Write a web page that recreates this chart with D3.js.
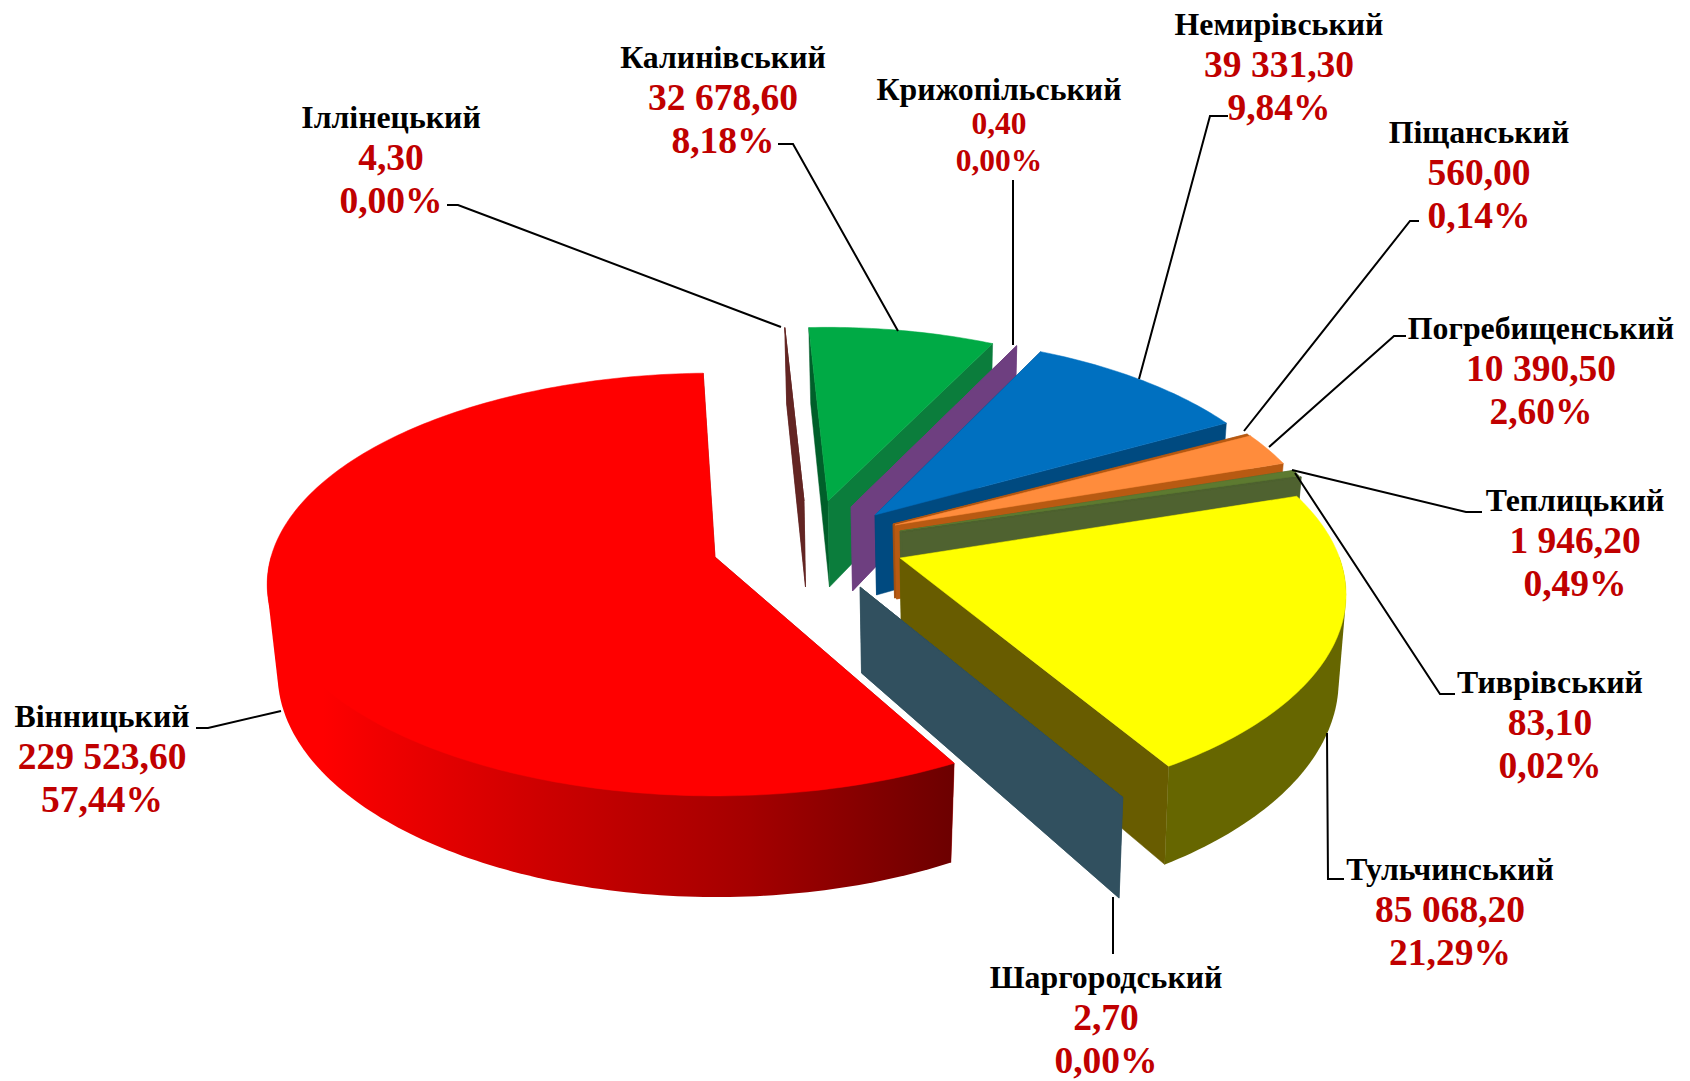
<!DOCTYPE html>
<html><head><meta charset="utf-8">
<style>html,body{margin:0;padding:0;background:#fff}svg{display:block}text{font-family:"Liberation Serif",serif;font-weight:bold;text-anchor:middle}</style>
<script src="https://cdn.jsdelivr.net/npm/d3@7/dist/d3.min.js"></script>
</head><body><svg id="c" width="1690" height="1081"></svg>
<script>
// ---- data ----
const districts = ["Вінницький","Іллінецький","Калинівський","Крижопільський","Немирівський","Піщанський","Погребищенський","Теплицький","Тиврівський","Тульчинський","Шаргородський"];
const values = [229523.6,4.3,32678.6,0.4,39331.3,560,10390.5,1946.2,83.1,85068.2,2.7];

// ---- colours: top face, start wall, end wall, outer wall ----
const topColors  = ["#ff0000","#632523","#00aa45","#6e3f80","#0070c0","#b85a12","#ff8c3c","#5d7a30","#4f6230","#ffff00","#31505f"];
const startWall  = ["#a00000","#632523","#005f2a","#6e3f80","#003f72","#a5500f","#b85a12","#4f6230","#4f6230","#666600","#31505f"];
const endWall    = ["#a00000","#632523","#0b7d3c","#6e3f80","#004a80","#a5500f","#b85a12","#4f6230","#4f6230","#685c00","#31505f"];
const outerWall  = ["url(#redWall)","#632523","#007a33","#6e3f80","#004a80","#a5500f","#b85a12","#4f6230","#4f6230","#666600","#31505f"];

// ---- layout: exploded position of every slice ----
const apexes = [[715,557],[804,501],[828,501],[851,507],[875,515],[893,524],[895,525],[900,531],[902,532],[900,558],[860,587]];
const rots   = [0,-1.3,-1.3,-1.7,-2,-1.3,-1.5,-1,-1,-3,-2.2];
const scales = [1,.93,.93,.95,.96,.96,.96,.97,.97,.99,.99];
const yScale = [.985,1,1,1,1,1,1,1,1,1,1];
const persp  = [.13,.13,.13,.13,.13,.13,.13,.13,.13,.17,.17];
const depths = [88,86,86,84,80,74,74,74,74,84,86];
const drawOrder = [1,2,3,4,5,6,7,8,9,10,0];

const labelX   = [102,391,723,999,1279,1479,1541,1575,1550,1450,1106];
const labelY   = [726,127,67,99,34,142,338,510,692,879,987];
const labelFs  = [37.5,37.5,37.5,31.5,37.5,37.5,37.5,37.5,37.5,37.5,37.5];
const leaders  = [
 [[196,728],[208,728],[281,711]],
 [[447,205],[458,205],[781,327]],
 [[778,144],[793,144],[898,331]],
 [[1013,180],[1013,345]],
 [[1228,116],[1210,116],[1139,379]],
 [[1419,221],[1410,221],[1244,431]],
 [[1406,336],[1394,336],[1269,447]],
 [[1482,512],[1466,512],[1292,470]],
 [[1455,694],[1440,694],[1295,473]],
 [[1344,879],[1328,879],[1327,733]],
 [[1113,954],[1113,897]]
];

const A = 444, B = 211, Q = .02, K = 1.5;
const rad = d => d*Math.PI/180;
const start = rad(151.5);
const arcs = d3.pie().sort(null).startAngle(start).endAngle(start+2*Math.PI)(values);
const svg = d3.select("#c");
const defs = svg.append("defs");
const grad = defs.append("linearGradient").attr("id","redWall").attr("gradientUnits","userSpaceOnUse")
  .attr("x1",275).attr("x2",954).attr("y1",0).attr("y2",0);
[[0,"#ff0000"],[.07,"#ff0000"],[.16,"#f00000"],[.4,"#cc0000"],[.7,"#a40000"],[1,"#6c0000"]].forEach(s=>grad.append("stop").attr("offset",s[0]).attr("stop-color",s[1]));

const line = d3.line();
function proj(i,a,r,z){
  const u=r*Math.sin(a), v=-r*Math.cos(a), s=1/(1-persp[i]*v), sc=scales[i];
  return [apexes[i][0]+A*u*s*sc*(1-Q*z)+K*z, apexes[i][1]+B*v*s*sc*yScale[i]+depths[i]*z*s];
}
function arcPts(i,a0,a1,z,filter){
  const n=Math.max(2,Math.ceil((a1-a0)/rad(1))), pts=[];
  for(let k=0;k<=n;k++){const a=a0+(a1-a0)*k/n; if(!filter||filter(a)) pts.push(proj(i,a,1,z));}
  return pts;
}
const pie3d = svg.append("g").attr("class","pie");
drawOrder.forEach(i=>{
  const a0=arcs[i].startAngle+rad(rots[i]), a1=arcs[i].endAngle+rad(rots[i]);
  const g=pie3d.append("g").attr("class","slice");
  const wall=(a,fill)=>g.append("path").attr("fill",fill).attr("stroke",fill).attr("stroke-width",.5)
     .attr("d",line([proj(i,a,0,0),proj(i,a,1,0),proj(i,a,1,1),proj(i,a,0,1)])+"Z");
  wall(a0,startWall[i]); wall(a1,endWall[i]);
  const front=a=>-Math.cos(a)>=-.02;
  const top=arcPts(i,a0,a1,0,front), bot=arcPts(i,a0,a1,1,front);
  if(top.length>2){
    const hull=d3.polygonHull(top.concat(bot));
    g.append("path").attr("fill",outerWall[i]).attr("d",line(hull)+"Z");
  }
  g.append("path").attr("fill",topColors[i]).attr("stroke",topColors[i]).attr("stroke-width",.5)
    .attr("d",line([proj(i,a0,0,0)].concat(arcPts(i,a0,a1,0)))+"Z");
});

svg.append("g").attr("fill","none").attr("stroke","#000").attr("stroke-width",2)
  .selectAll("path").data(leaders).join("path").attr("d",d=>line(d));

const total=d3.sum(values);
const loc=d3.formatLocale({decimal:",",thousands:" ",grouping:[3],currency:["",""],percent:"%"});
const fmtV=loc.format(",.2f"), fmtP=loc.format(".2%");
const lab=svg.append("g").selectAll("g").data(districts).join("g");
lab.each(function(name,i){
  const g=d3.select(this), x=labelX[i], y=labelY[i], fs=labelFs[i], small=fs<37;
  g.append("text").attr("x",x).attr("y",y+.5).attr("font-size",31.8).attr("fill","#000").text(name);
  g.append("text").attr("x",x).attr("y",y+(small?35:42.5)).attr("font-size",fs).attr("fill","#c00000").text(fmtV(values[i]));
  g.append("text").attr("x",x).attr("y",y+(small?72:85.5)).attr("font-size",fs).attr("fill","#c00000").text(fmtP(values[i]/total));
});
</script></body></html>
